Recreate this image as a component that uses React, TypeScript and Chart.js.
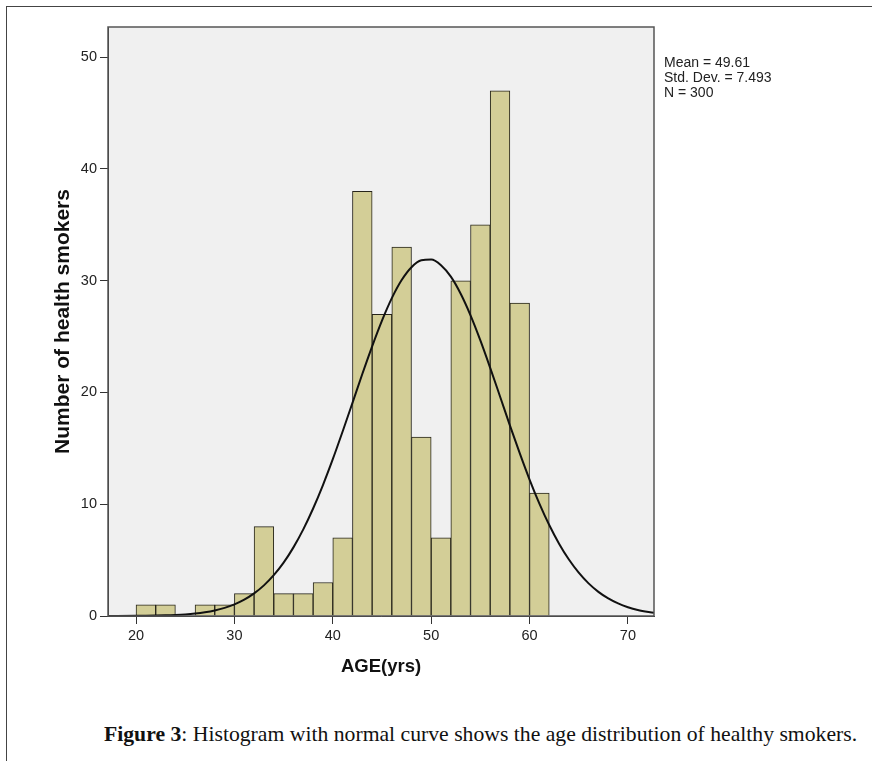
import React, { useEffect, useRef } from "react";
import { Chart, registerables } from "chart.js";

Chart.register(...registerables);

// Histogram bins (2-year width), left edge of each bin
const binStarts = [20, 22, 24, 26, 28, 30, 32, 34, 36, 38, 40, 42, 44, 46, 48, 50, 52, 54, 56, 58, 60];
const binCounts = [1, 1, 0, 1, 1, 2, 8, 2, 2, 3, 7, 38, 27, 33, 16, 7, 30, 35, 47, 28, 11];
const binWidth = 2;

// Normal curve
const curveAges = [17.15, 20, 21, 22, 23, 24, 25, 26, 27, 28, 29, 30, 31, 32, 33, 34, 35, 36, 37, 38, 39, 40, 41, 42, 43, 44, 45, 46, 47, 48, 49, 50, 51, 52, 53, 54, 55, 56, 57, 58, 59, 60, 61, 62, 63, 64, 65, 66, 67, 68, 69, 70, 71, 72.65];
const curveCounts = [0.003, 0.013, 0.022, 0.036, 0.058, 0.093, 0.145, 0.223, 0.337, 0.499, 0.727, 1.04, 1.46, 2.02, 2.74, 3.65, 4.77, 6.14, 7.75, 9.62, 11.72, 14.03, 16.51, 19.07, 21.65, 24.13, 26.43, 28.44, 30.06, 31.21, 31.83, 31.9, 31.39, 30.36, 28.83, 26.9, 24.66, 22.2, 19.64, 17.06, 14.57, 12.21, 10.06, 8.14, 6.47, 5.05, 3.875, 2.921, 2.161, 1.572, 1.123, 0.788, 0.543, 0.283];

const xTicks = [20, 30, 40, 50, 60, 70];
const yTicks = [0, 10, 20, 30, 40, 50];
const xMin = 17.15;
const xMax = 72.65;
const yMax = 52.7;

const statsLines = ["Mean = 49.61", "Std. Dev. = 7.493", "N = 300"];
const xTitle = "AGE(yrs)";
const yTitle = "Number of health smokers";

const plotFrame = {
  id: "plotFrame",
  beforeDraw(chart: any) {
    const { ctx, chartArea } = chart;
    ctx.save();
    ctx.fillStyle = "#f0f0f0";
    ctx.fillRect(chartArea.left, chartArea.top, chartArea.right - chartArea.left, chartArea.bottom - chartArea.top);
    ctx.restore();
  },
  afterDraw(chart: any) {
    const { ctx, chartArea } = chart;
    ctx.save();
    ctx.strokeStyle = "#555";
    ctx.lineWidth = 1.5;
    ctx.strokeRect(chartArea.left, chartArea.top, chartArea.right - chartArea.left, chartArea.bottom - chartArea.top);
    ctx.restore();
  },
};

export default function App() {
  const ref = useRef<HTMLCanvasElement>(null);

  useEffect(() => {
    if (!ref.current) return;
    const chart = new Chart(ref.current, {
      type: "bar",
      data: {
        datasets: [
          {
            type: "line",
            label: "Normal",
            data: curveAges.map((a, i) => ({ x: a, y: curveCounts[i] })),
            borderColor: "#111",
            borderWidth: 2,
            pointRadius: 0,
            cubicInterpolationMode: "monotone",
            fill: false,
            order: 0,
          } as any,
          {
            type: "bar",
            label: "Count",
            data: binStarts.map((s, i) => ({ x: s + binWidth / 2, y: binCounts[i] })),
            backgroundColor: "#d3ce97",
            borderColor: "#26241a",
            borderWidth: 1,
            barPercentage: 1,
            categoryPercentage: 1,
            order: 1,
          } as any,
        ],
      },
      options: {
        responsive: false,
        animation: false,
        layout: { padding: { left: 50.4, top: 27, right: 218, bottom: 22.2 } },
        plugins: { legend: { display: false }, tooltip: { enabled: false } },
        scales: {
          x: {
            type: "linear",
            min: xMin,
            max: xMax,
            offset: false,
            afterBuildTicks: (s: any) => {
              s.ticks = xTicks.map((v) => ({ value: v }));
            },
            afterFit: (s: any) => {
              s.height = 61.8;
            },
            grid: { drawOnChartArea: false, drawTicks: true, tickLength: 8, color: "#333", offset: false },
            border: { display: true, color: "#333", width: 1 },
            ticks: { color: "#222", font: { family: "Arial, 'Liberation Sans'", size: 14.5 }, padding: 3, maxRotation: 0 },
            title: {
              display: true,
              text: xTitle,
              color: "#111",
              font: { family: "Arial, 'Liberation Sans'", size: 18.5, weight: "bold" },
              padding: 0,
            },
          },
          y: {
            type: "linear",
            min: 0,
            max: yMax,
            afterBuildTicks: (s: any) => {
              s.ticks = yTicks.map((v) => ({ value: v }));
            },
            afterFit: (s: any) => {
              s.width = 57.6;
            },
            grid: { drawOnChartArea: false, drawTicks: true, tickLength: 8, color: "#333" },
            border: { display: true, color: "#333", width: 1 },
            ticks: { color: "#222", font: { family: "Arial, 'Liberation Sans'", size: 14.5 }, padding: 3 },
            title: {
              display: true,
              text: yTitle,
              color: "#111",
              font: { family: "Arial, 'Liberation Sans'", size: 21, weight: "bold" },
              padding: 0,
            },
          },
        },
      },
      plugins: [plotFrame],
    });
    return () => chart.destroy();
  }, []);

  return (
    <div style={{ position: "absolute", left: 0, top: 0, width: 872, height: 761, overflow: "hidden", background: "#fff" }}>
      <div
        style={{
          position: "absolute",
          left: 6,
          top: 6,
          width: 872,
          height: 761,
          borderTop: "1.5px solid #444",
          borderLeft: "1.5px solid #444",
        }}
      />
      <canvas ref={ref} width={872} height={700} style={{ position: "absolute", left: 0, top: 0 }} />
      <div
        style={{
          position: "absolute",
          left: 664,
          top: 55,
          fontFamily: "Arial, 'Liberation Sans', sans-serif",
          fontSize: 14,
          lineHeight: "15px",
          color: "#222",
        }}
      >
        {statsLines.map((l) => (
          <div key={l}>{l}</div>
        ))}
      </div>
      <div
        style={{
          position: "absolute",
          left: 104,
          top: 722,
          whiteSpace: "nowrap",
          fontFamily: "'Liberation Serif', 'DejaVu Serif', serif",
          fontSize: 21.7,
          color: "#111",
        }}
      >
        <b>Figure 3</b>: Histogram with normal curve shows the age distribution of healthy smokers.
      </div>
    </div>
  );
}
